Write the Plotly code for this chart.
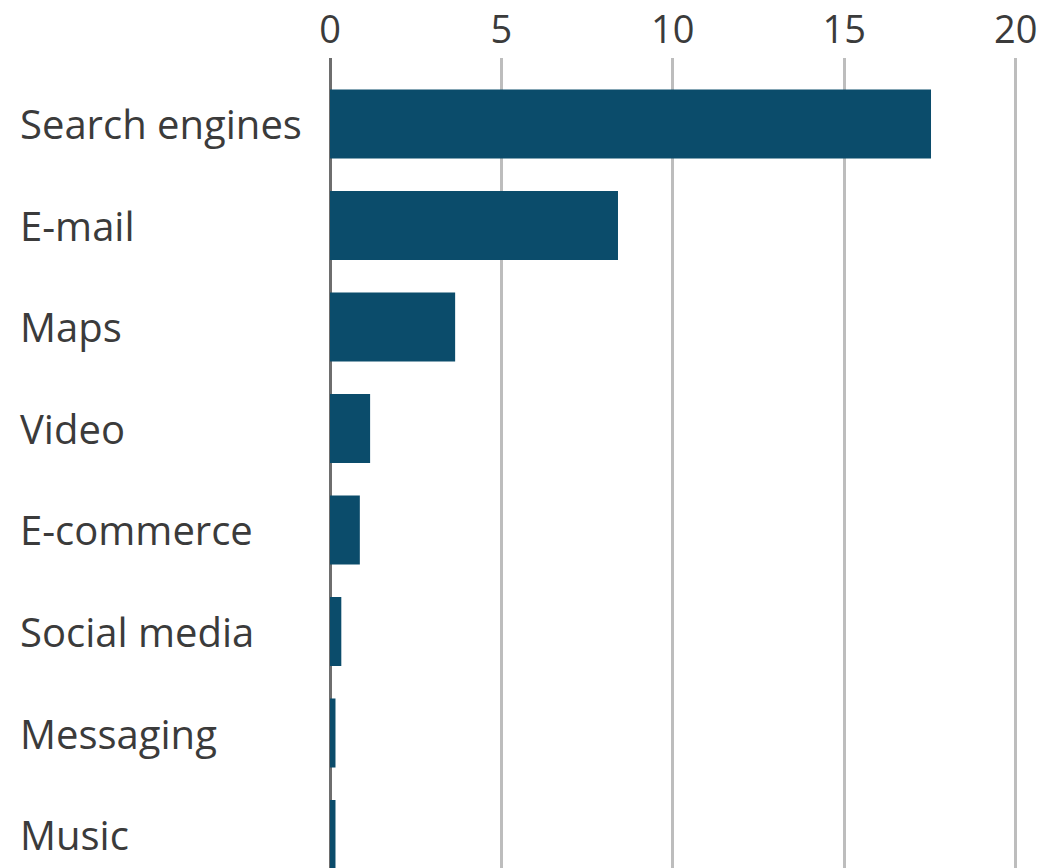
import plotly.graph_objects as go

# Share of usage by online service
categories = ["Search engines", "E-mail", "Maps", "Video",
              "E-commerce", "Social media", "Messaging", "Music"]
values = [17.53, 8.4, 3.65, 1.17, 0.87, 0.33, 0.16, 0.16]
tick_values = [0, 5, 10, 15, 20]
tick_labels = ["0", "5", "10", "15", "20"]

BAR_COLOR = "#0b4c6b"
TEXT_COLOR = "#3b3b3b"
FONT = "Open Sans, sans-serif"

fig = go.Figure(
    go.Bar(
        x=values,
        y=categories,
        orientation="h",
        marker=dict(color=BAR_COLOR, line=dict(width=0)),
        width=0.68,
    )
)

# Left-aligned category labels
for cat in categories:
    fig.add_annotation(
        x=0, xref="paper", xanchor="left", xshift=-312,
        y=cat, yref="y", yanchor="middle",
        text=cat, showarrow=False,
        font=dict(family=FONT, size=40, color=TEXT_COLOR),
    )

fig.update_layout(
    width=1063,
    height=868,
    margin=dict(l=330, r=0, t=58, b=0),
    paper_bgcolor="white",
    plot_bgcolor="white",
    showlegend=False,
    xaxis=dict(
        side="top",
        range=[0, 21.38],
        tickvals=tick_values,
        ticktext=tick_labels,
        showgrid=True,
        gridcolor="#bdbdbd",
        gridwidth=2.5,
        zeroline=True,
        zerolinecolor="#6e6e6e",
        zerolinewidth=2.5,
        showline=False,
        ticks="",
        ticklabelstandoff=6,
        tickfont=dict(family=FONT, size=38, color=TEXT_COLOR),
        fixedrange=True,
    ),
    yaxis=dict(
        type="category",
        categoryorder="array",
        categoryarray=categories,
        range=[7.33, -0.65],
        showticklabels=False,
        showgrid=False,
        zeroline=False,
        showline=False,
        ticks="",
        fixedrange=True,
    ),
)

fig.write_html("out.html")
